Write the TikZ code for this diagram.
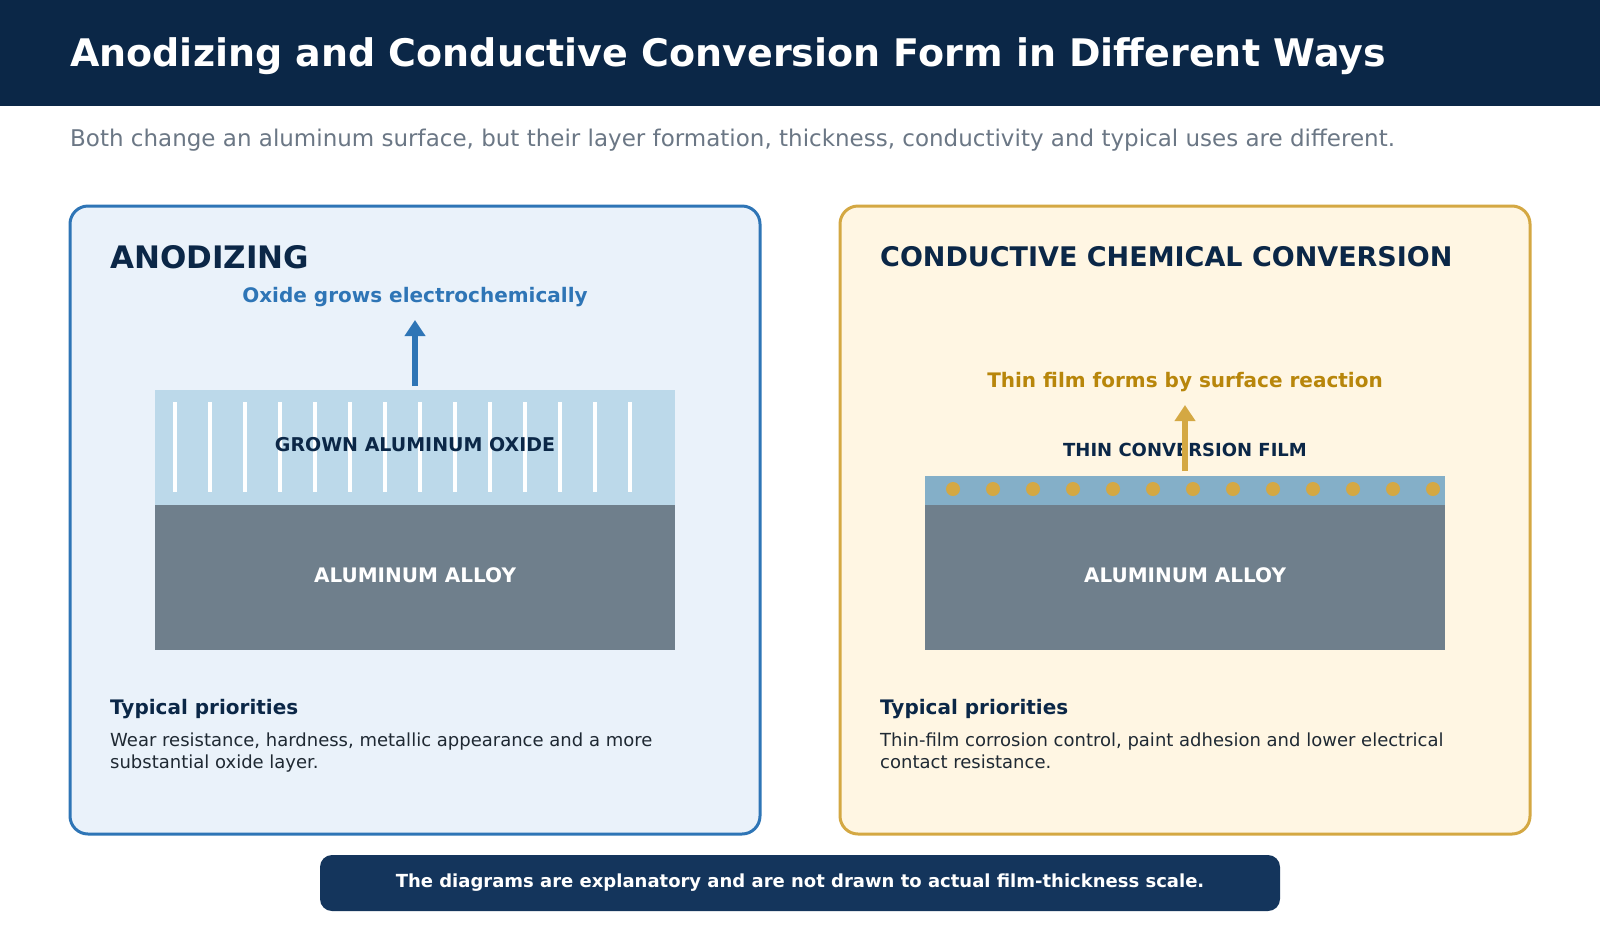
\documentclass[tikz,border=0pt]{standalone}
\usepackage{fontspec}
\setmainfont{DejaVu Sans}
\usetikzlibrary{arrows.meta}
\definecolor{navy}{HTML}{0B2747}
\definecolor{subgray}{HTML}{6B7785}
\definecolor{lblue}{HTML}{EAF2FA}
\definecolor{mblue}{HTML}{2E75B6}
\definecolor{oxide}{HTML}{BCD9EA}
\definecolor{alloy}{HTML}{6F7F8C}
\definecolor{lgold}{HTML}{FFF6E3}
\definecolor{gold}{HTML}{D4A843}
\definecolor{dgold}{HTML}{B8860B}
\definecolor{film}{HTML}{84AFC8}
\definecolor{footer}{HTML}{14355C}
\definecolor{bodytxt}{HTML}{1F2933}
\tikzset{
  fs/.style={font=\fontsize{#1}{#1}\selectfont},
  fb/.style={font=\bfseries\fontsize{#1}{#1}\selectfont},
  panel/.style={rounded corners=18, line width=3, minimum width=690, minimum height=628, inner sep=0},
  block/.style={minimum width=520, inner sep=0, draw=none},
  lefttxt/.style={anchor=base west, inner sep=0},
  upar/.style={line width=6, -{Triangle[width=20,length=16]}},
  pore/.style={white, line width=4},
  dot/.style={circle, fill=gold, minimum size=14, inner sep=0},
}
\begin{document}
\begin{tikzpicture}[x=1pt,y=-1pt]
\useasboundingbox (0,0) rectangle (1600,930);
\fill[white] (0,0) rectangle (1600,930);
\fill[navy] (0,0) rectangle (1600,106);
\node[lefttxt, text=white, fb=38] (title) at (70,66) {Anodizing and Conductive Conversion Form in Different Ways};
\node[lefttxt, text=subgray, fs=23] (sub) at (70,146) {Both change an aluminum surface, but their layer formation, thickness, conductivity and typical uses are different.};

% left panel
\node[panel, draw=mblue, fill=lblue] (lp) at (415,520) {};
\node[lefttxt, text=navy, fb=31] (lh) at (110,268) {ANODIZING};
\node[text=mblue, fb=20, inner sep=0] (lsub) at (415,297) {Oxide grows electrochemically};
\node[block, fill=oxide, minimum height=115] (ox) at (415,447.5) {};
\foreach \i in {0,...,13} {
  \draw[pore] ({175+35*\i},402) -- ({175+35*\i},492);
}
\node[text=navy, fb=19, inner sep=0] (oxl) at (415,445) {GROWN ALUMINUM OXIDE};
\node[block, fill=alloy, minimum height=145] (la) at (415,577.5) {};
\node[text=white, fb=20, inner sep=0] (lal) at (415,575) {ALUMINUM ALLOY};
\coordinate (la0) at (415,386);
\coordinate (la1) at (415,320);
\draw[upar, mblue] (la0) -- (la1);
\node[lefttxt, text=navy, fb=20] (lpr) at (110,714) {Typical priorities};
\node[lefttxt, text=bodytxt, fs=18] (lb1) at (110,746) {Wear resistance, hardness, metallic appearance and a more};
\node[lefttxt, text=bodytxt, fs=18] (lb2) at (110,768) {substantial oxide layer.};

% right panel
\node[panel, draw=gold, fill=lgold] (rp) at (1185,520) {};
\node[lefttxt, text=navy, fb=27] (rh) at (880,266) {CONDUCTIVE CHEMICAL CONVERSION};
\node[text=dgold, fb=20, inner sep=0] (rsub) at (1185,382) {Thin film forms by surface reaction};
\node[text=navy, fb=18, inner sep=0] (fl) at (1185,450) {THIN CONVERSION FILM};
\node[block, fill=film, minimum height=30] (fm) at (1185,490.5) {};
\foreach \i in {0,...,12} {
  \node[dot] (d\i) at ({953+40*\i},489) {};
}
\node[block, fill=alloy, minimum height=145] (ra) at (1185,577.5) {};
\node[text=white, fb=20, inner sep=0] (ral) at (1185,575) {ALUMINUM ALLOY};
\coordinate (ra0) at (1185,471);
\coordinate (ra1) at (1185,405);
\draw[upar, gold] (ra0) -- (ra1);
\node[lefttxt, text=navy, fb=20] (rpr) at (880,714) {Typical priorities};
\node[lefttxt, text=bodytxt, fs=18] (rb1) at (880,746) {Thin-film corrosion control, paint adhesion and lower electrical};
\node[lefttxt, text=bodytxt, fs=18] (rb2) at (880,768) {contact resistance.};

% footer
\node[rounded corners=12, fill=footer, minimum width=960, minimum height=56, inner sep=0, text=white, fb=18] (foot) at (800,883) {The diagrams are explanatory and are not drawn to actual film-thickness scale.};
\end{tikzpicture}
\end{document}
